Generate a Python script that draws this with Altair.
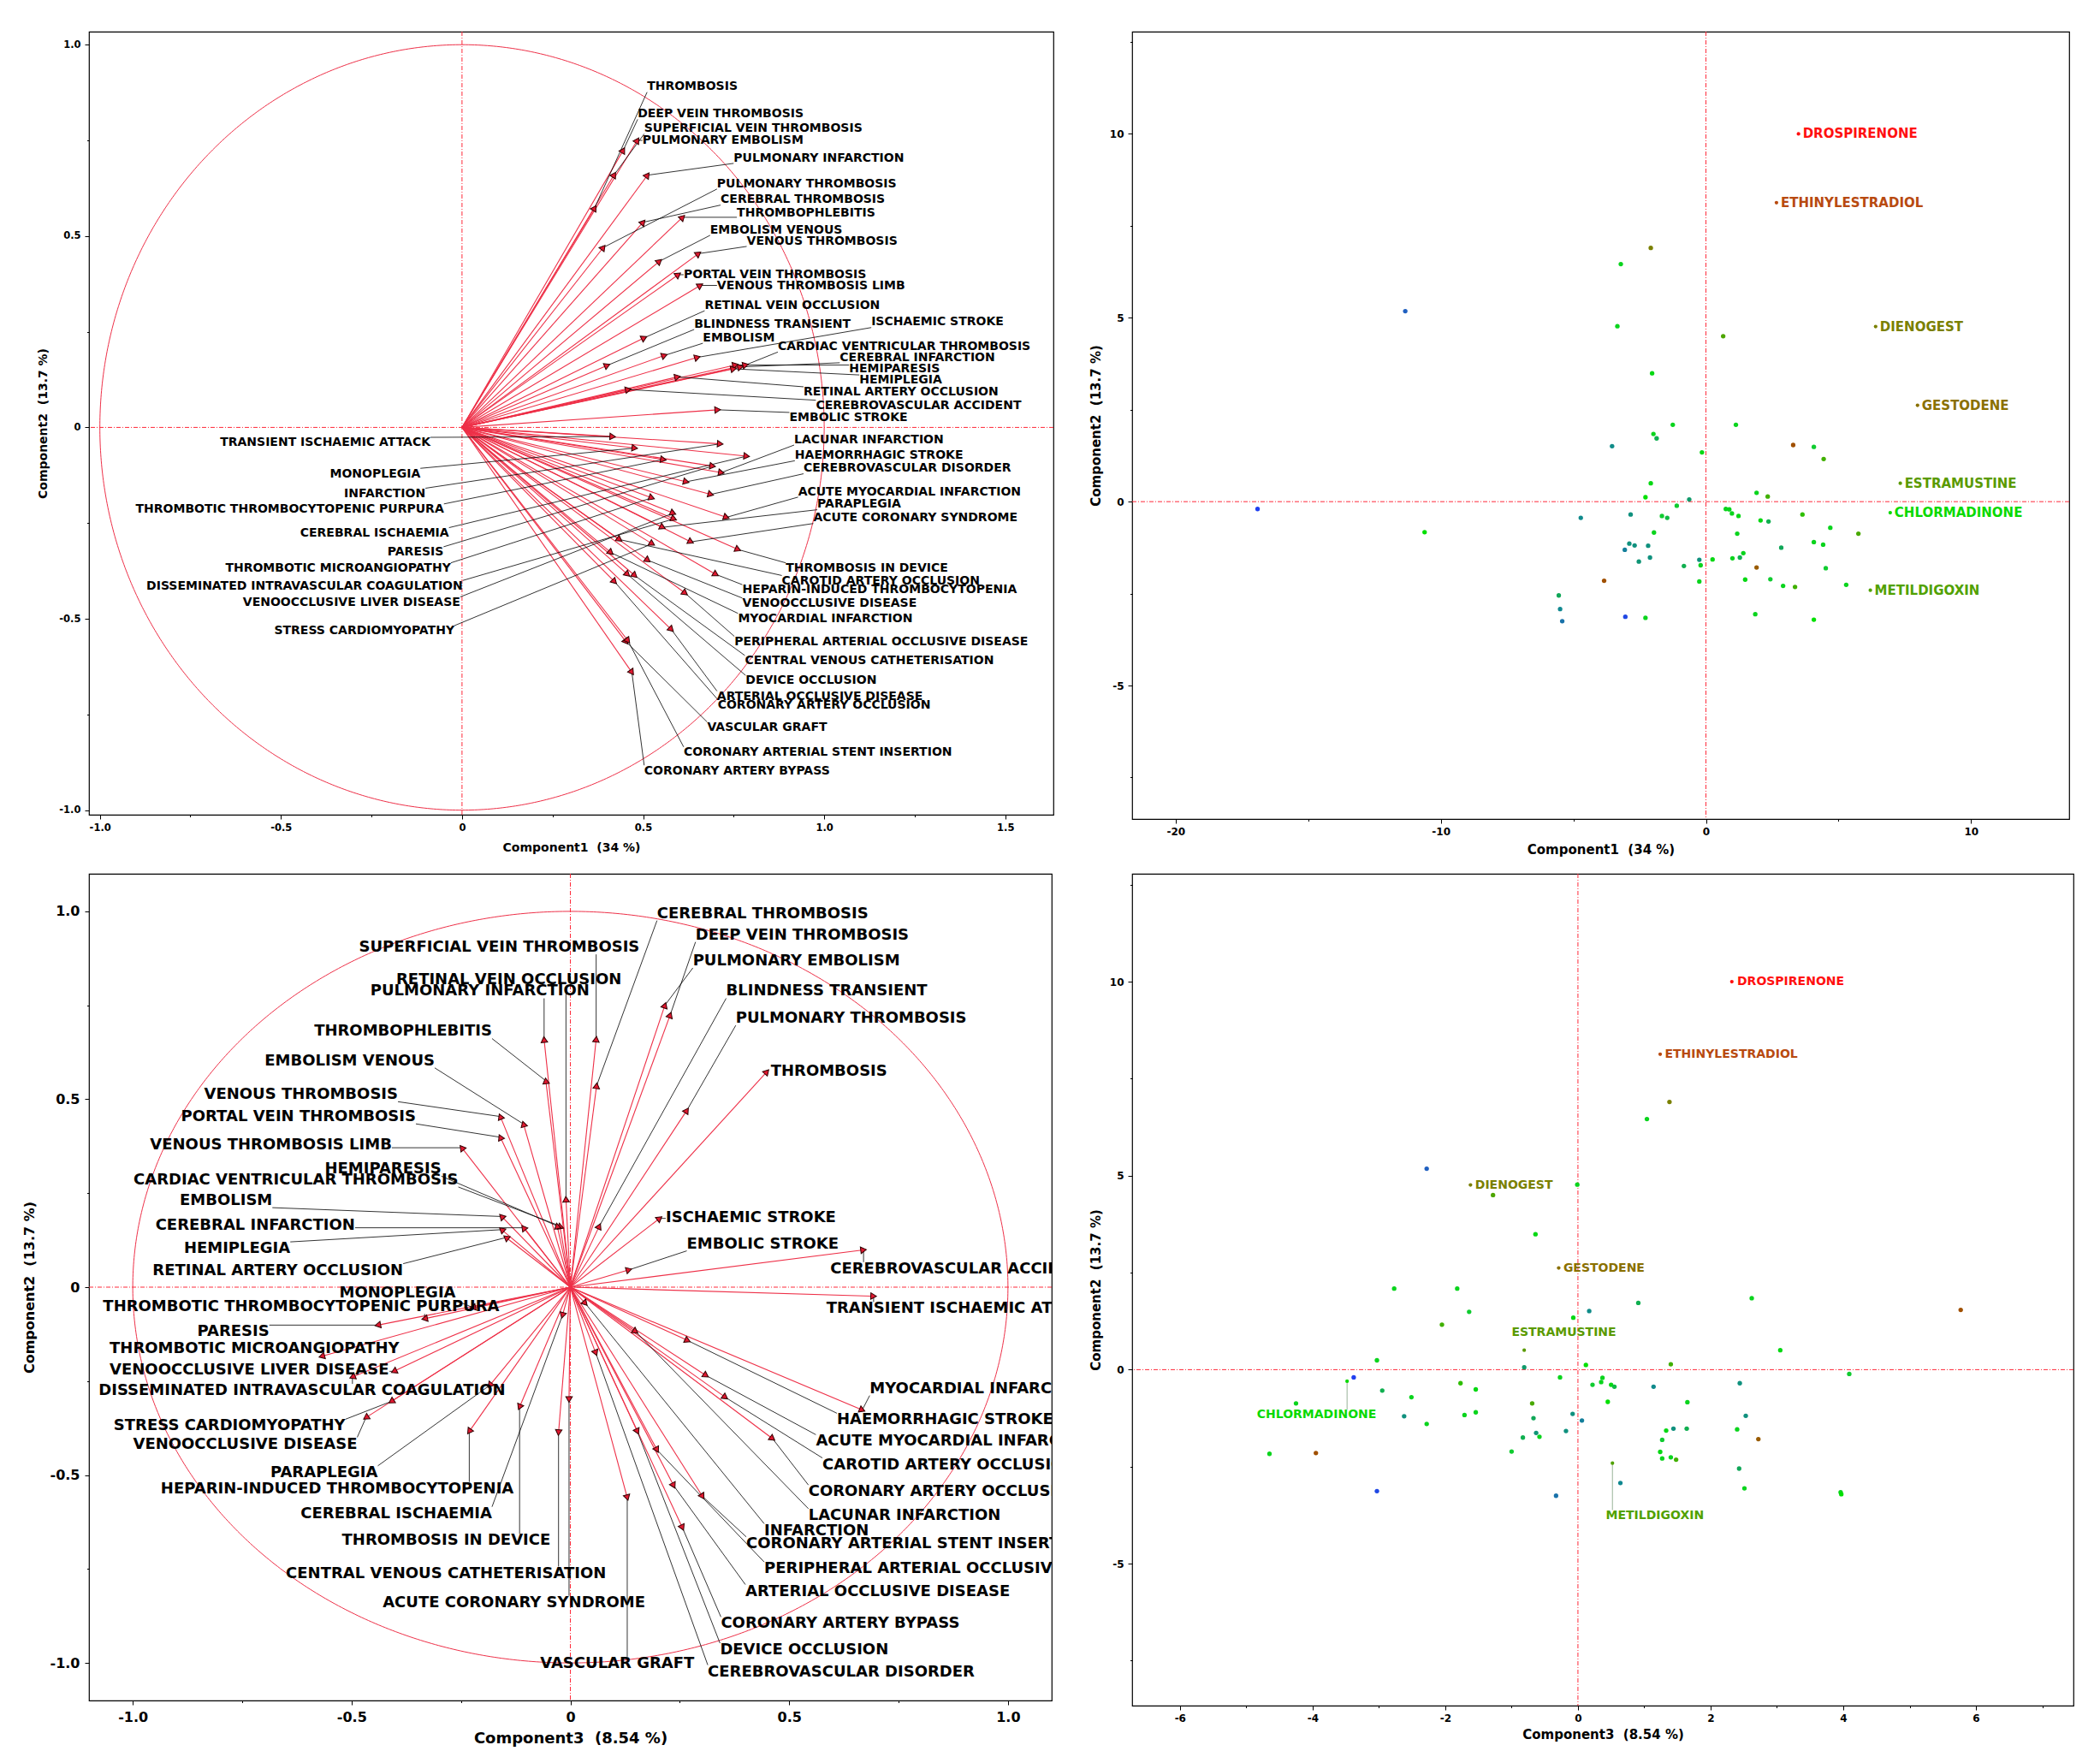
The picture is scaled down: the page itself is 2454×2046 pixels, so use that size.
import math
import numpy as np
import pandas as pd
import altair as alt

# ---------------- loadings (variables) ----------------
var_names = ["THROMBOSIS", "DEEP VEIN THROMBOSIS", "SUPERFICIAL VEIN THROMBOSIS", "PULMONARY EMBOLISM",
             "PULMONARY INFARCTION", "PULMONARY THROMBOSIS", "CEREBRAL THROMBOSIS", "THROMBOPHLEBITIS",
             "EMBOLISM VENOUS", "VENOUS THROMBOSIS", "PORTAL VEIN THROMBOSIS", "VENOUS THROMBOSIS LIMB",
             "RETINAL VEIN OCCLUSION", "BLINDNESS TRANSIENT", "ISCHAEMIC STROKE", "EMBOLISM",
             "CARDIAC VENTRICULAR THROMBOSIS", "CEREBRAL INFARCTION", "HEMIPARESIS", "HEMIPLEGIA",
             "RETINAL ARTERY OCCLUSION", "CEREBROVASCULAR ACCIDENT", "EMBOLIC STROKE",
             "TRANSIENT ISCHAEMIC ATTACK", "MONOPLEGIA", "INFARCTION", "THROMBOTIC THROMBOCYTOPENIC PURPURA",
             "CEREBRAL ISCHAEMIA", "PARESIS", "THROMBOTIC MICROANGIOPATHY",
             "DISSEMINATED INTRAVASCULAR COAGULATION", "VENOOCCLUSIVE LIVER DISEASE", "STRESS CARDIOMYOPATHY",
             "LACUNAR INFARCTION", "HAEMORRHAGIC STROKE", "CEREBROVASCULAR DISORDER",
             "ACUTE MYOCARDIAL INFARCTION", "PARAPLEGIA", "ACUTE CORONARY SYNDROME", "THROMBOSIS IN DEVICE",
             "CAROTID ARTERY OCCLUSION", "HEPARIN-INDUCED THROMBOCYTOPENIA", "VENOOCCLUSIVE DISEASE",
             "MYOCARDIAL INFARCTION", "PERIPHERAL ARTERIAL OCCLUSIVE DISEASE", "CENTRAL VENOUS CATHETERISATION",
             "DEVICE OCCLUSION", "ARTERIAL OCCLUSIVE DISEASE", "CORONARY ARTERY OCCLUSION", "VASCULAR GRAFT",
             "CORONARY ARTERIAL STENT INSERTION", "CORONARY ARTERY BYPASS"]

load_c1 = [0.366, 0.445, 0.420, 0.484, 0.512, 0.390, 0.500, 0.609, 0.545, 0.653, 0.597, 0.658, 0.503, 0.401,
           0.650, 0.559, 0.783, 0.769, 0.755, 0.750, 0.595, 0.459, 0.706,
           0.416, 0.477, 0.713, 0.556, 0.786, 0.692, 0.524, 0.585, 0.583, 0.525,
           0.716, 0.619, 0.687, 0.730, 0.554, 0.632, 0.762, 0.435, 0.701, 0.513, 0.411, 0.616, 0.477, 0.457,
           0.578, 0.421, 0.453, 0.458, 0.469]
load_c2 = [0.573, 0.724, 0.660, 0.750, 0.659, 0.470, 0.536, 0.549, 0.434, 0.454, 0.399, 0.371, 0.234, 0.162,
           0.183, 0.188, 0.163, 0.158, 0.163, 0.153, 0.132, 0.099, 0.046,
           -0.024, -0.054, -0.043, -0.084, -0.075, -0.101, -0.184, -0.239, -0.224, -0.304,
           -0.118, -0.142, -0.175, -0.235, -0.261, -0.299, -0.319, -0.293, -0.384, -0.347, -0.327, -0.433,
           -0.387, -0.384, -0.528, -0.403, -0.560, -0.557, -0.640]
load_c3 = [0.449, 0.228, 0.059, 0.216, -0.060, 0.266, 0.060, -0.056, -0.107, -0.160, -0.160, -0.248, -0.010,
           0.066, 0.204, -0.157, -0.024, -0.107, -0.030, -0.157, -0.147, 0.670, 0.134,
           0.693, -0.223, 0.034, -0.333, -0.018, -0.440, -0.568, -0.498, -0.403, -0.409,
           0.149, 0.268, 0.058, 0.310, -0.184, -0.003, -0.116, 0.354, -0.231, -0.467, 0.667, 0.198, -0.027,
           0.153, 0.236, 0.462, 0.130, 0.302, 0.256]

# label anchors, component1 x component2 panel
tl_lx = [0.511, 0.485, 0.503, 0.498, 0.750, 0.704, 0.714, 0.759, 0.685, 0.786, 0.612, 0.704, 0.670, 0.641,
         1.130, 0.665, 0.872, 1.043, 1.069, 1.097, 0.943, 0.977, 0.904,
         -0.087, -0.115, -0.101, -0.050, -0.036, -0.051, -0.031, 0.002, -0.005, -0.021,
         0.917, 0.919, 0.943, 0.928, 0.981, 0.970, 0.894, 0.883, 0.774, 0.774, 0.762, 0.752, 0.781, 0.783,
         0.704, 0.706, 0.677, 0.612, 0.503]
tl_ly = [0.890, 0.819, 0.781, 0.751, 0.704, 0.637, 0.595, 0.561, 0.516, 0.487, 0.399, 0.371, 0.319, 0.270,
         0.275, 0.234, 0.211, 0.183, 0.153, 0.123, 0.092, 0.057, 0.025,
         -0.040, -0.121, -0.173, -0.214, -0.276, -0.326, -0.368, -0.414, -0.457, -0.532,
         -0.032, -0.073, -0.107, -0.168, -0.201, -0.237, -0.368, -0.401, -0.425, -0.460, -0.500, -0.560,
         -0.610, -0.662, -0.703, -0.725, -0.784, -0.849, -0.897]
tl_anchor = ["L"] * 23 + ["R"] * 10 + ["L"] * 19

# label anchors, component3 x component2 panel
bl_lx = [0.458, 0.286, -0.483, 0.280, -0.457, 0.378, 0.198, -0.179, -0.310, -0.394, -0.353, -0.408, -0.398,
         0.356, 0.218, -0.681, -0.256, -0.492, -0.295, -0.640, -0.382, 0.594, 0.266,
         0.585, -0.262, 0.443, -1.068, -0.179, -0.688, -1.053, -1.078, -1.053, -0.514,
         0.544, 0.609, 0.314, 0.561, -0.440, -0.429, -0.522, 0.576, -0.936, -0.487, 0.684, 0.443, -0.650,
         0.342, 0.400, 0.544, -0.069, 0.402, 0.344]
bl_ly = [0.573, 0.937, 0.904, 0.868, 0.787, 0.715, 0.994, 0.680, 0.602, 0.512, 0.453, 0.377, 0.817, 0.787,
         0.184, 0.230, 0.285, 0.164, 0.314, 0.102, 0.044, 0.048, 0.115,
         -0.058, -0.017, -0.648, -0.053, -0.603, -0.119, -0.164, -0.276, -0.222, -0.370,
         -0.608, -0.354, -1.024, -0.411, -0.494, -0.840, -0.675, -0.473, -0.537, -0.418, -0.270, -0.750,
         -0.762, -0.966, -0.810, -0.545, -1.002, -0.683, -0.896]
bl_anchor = ["L", "L", "L", "L", "L", "L", "L", "R", "R", "R", "R", "R", "L", "L", "L", "R", "R", "R", "R",
             "R", "R", "L", "L",
             "L", "R", "L", "L", "R", "R", "L", "L", "L", "R",
             "L", "L", "L", "L", "R", "L", "L", "L", "L", "R", "L", "L", "L", "L", "L", "L", "L", "L", "L"]

# ---------------- scores (drugs) ----------------
s_c1 = [-11.34, -16.91, -10.61, -2.08, -3.21, -3.34, 0.65, -2.03, -1.25, 1.13, -1.98, -1.86, -3.54, 3.29,
        4.07, 4.44, -0.15, -2.08, -2.28, -0.63, -1.10, 1.91, 2.33, -2.84, 0.75, 0.88, 0.98, 3.64, -1.66,
        1.23, -1.46, -4.72, 2.06, 2.36, 4.69, -1.96, 5.75, 1.18, 4.07, -2.89, 4.42, -2.69, -2.18, 2.84,
        -3.06, 1.41, -2.11, 1.28, 1.00, 0.25, -0.25, -2.53, -0.20, -0.83, 1.91, 4.52, 2.43, 1.48, -3.84,
        -0.25, 5.29, 2.91, 3.36, -5.55, -5.50, 1.86, -3.04, -2.28, 4.07, -5.42]
s_c2 = [5.18, -0.20, -0.83, 6.90, 6.46, 4.77, 4.50, 3.49, 2.09, 2.09, 1.84, 1.72, 1.51, 1.54, 1.49, 1.16,
        1.34, 0.50, 0.12, 0.06, -0.11, 0.24, 0.14, -0.35, -0.20, -0.21, -0.32, -0.35, -0.39, -0.39, -0.44,
        -0.44, -0.51, -0.54, -0.71, -0.84, -0.87, -0.87, -1.10, -1.14, -1.17, -1.19, -1.20, -1.25, -1.31,
        -1.40, -1.52, -1.52, -1.54, -1.57, -1.58, -1.63, -1.73, -1.75, -1.79, -1.81, -2.11, -2.12, -2.15,
        -2.17, -2.26, -2.29, -2.32, -2.55, -2.92, -3.06, -3.13, -3.16, -3.21, -3.25]
s_c3 = [-2.28, -3.38, 0.45, 1.38, 1.04, -0.01, -1.28, -0.64, -2.77, -1.82, 2.62, 0.91, 0.17, 5.77, -1.64,
        -2.05, -0.07, 3.05, 0.12, -0.81, 4.09, -3.03, 1.40, 2.44, -0.27, 0.37, 0.35, -1.77, 0.22, 0.50,
        0.55, 1.14, -1.54, -2.95, -2.51, 1.65, -0.69, -4.25, -1.54, -0.08, -1.71, 2.53, -2.62, -0.67, 0.06,
        -2.28, 1.44, 1.64, 2.40, 1.33, -0.18, -0.63, -0.58, -0.83, 2.72, 1.27, -1.00, 1.24, -3.95, -4.65,
        1.40, 1.27, 1.48, 2.43, 0.64, 2.51, -3.03, 3.96, 3.97, -0.33]
s_col = [0.12, 0.00, 0.55, 0.76, 0.52, 0.52, 0.65, 0.53, 0.52, 0.52, 0.52, 0.42, 0.27, 0.86, 0.50, 0.62,
         0.53, 0.53, 0.55, 0.35, 0.50, 0.52, 0.62, 0.30, 0.52, 0.52, 0.52, 0.60, 0.50, 0.53, 0.45, 0.26,
         0.53, 0.42, 0.52, 0.52, 0.64, 0.52, 0.52, 0.30, 0.52, 0.30, 0.30, 0.40, 0.22, 0.52, 0.30, 0.42,
         0.52, 0.53, 0.30, 0.32, 0.52, 0.42, 0.84, 0.50, 0.50, 0.53, 0.86, 0.52, 0.52, 0.52, 0.62, 0.40,
         0.25, 0.52, 0.03, 0.52, 0.55, 0.18]

drug_names = ["DROSPIRENONE", "ETHINYLESTRADIOL", "DIENOGEST", "GESTODENE", "ESTRAMUSTINE",
              "CHLORMADINONE", "METILDIGOXIN"]
d_c1 = [3.49, 2.66, 6.40, 7.98, 7.33, 6.95, 6.20]
d_c2 = [10.00, 8.13, 4.76, 2.62, 0.50, -0.30, -2.41]
d_c3 = [2.32, 1.24, -1.62, -0.29, -0.81, -3.48, 0.52]
d_col = [1.00, 0.92, 0.76, 0.80, 0.68, 0.56, 0.66]
br_lx = [2.40, 1.31, -1.55, -0.22, -1.00, -4.84, 0.42]
br_ly = [10.00, 8.13, 4.76, 2.62, 0.96, -1.17, -3.76]
br_lead = [False, False, False, False, False, True, True]

# ---------------- styling helpers ----------------
F = "DejaVu Sans"
RED = "#EE3048"
ZRED = "#FF2A3A"
COL_DOM = [0.0, 0.12, 0.25, 0.38, 0.50, 0.55, 0.62, 0.68, 0.76, 0.80, 0.86, 0.92, 1.0]
COL_RNG = ["#2040F0", "#2060C0", "#108890", "#10A060", "#10CC30", "#00E000", "#40B000", "#5A9A00",
           "#7A8000", "#8A7000", "#A05000", "#B84A10", "#FF1010"]
cscale = alt.Scale(domain=COL_DOM, range=COL_RNG, interpolate="rgb")

CW = {'A': .774, 'B': .762, 'C': .734, 'D': .830, 'E': .683, 'F': .683, 'G': .821, 'H': .837, 'I': .372,
      'J': .372, 'K': .775, 'L': .637, 'M': .995, 'N': .837, 'O': .850, 'P': .733, 'Q': .850, 'R': .770,
      'S': .720, 'T': .682, 'U': .812, 'V': .774, 'W': 1.103, 'X': .771, 'Y': .724, 'Z': .725, ' ': .348,
      '-': .415}


def text_w(s, fs):
    return fs * sum(CW.get(ch, .7) for ch in s)


def fmt_expr(step, dec):
    t = f"abs(datum.value/{step} - round(datum.value/{step})) < 0.001"
    f = f"format(abs(datum.value), '.{dec}f')"
    return f"({t}) ? (abs(datum.value) < 1e-9 ? '0' : (datum.value < 0 ? '-' : '') + {f}) : ''"


def tick_size(step, major=5, minor=2.5):
    return {"condition": {"test": f"abs(datum.value/{step} - round(datum.value/{step})) > 0.001",
                          "value": minor}, "value": major}


def make_axis(title, values, step, dec, lfs, tfs, lpad, tpad):
    return alt.Axis(title=title, values=values, labelExpr=fmt_expr(step, dec), grid=False, domain=False,
                    ticks=True, tickColor="black", tickWidth=1, tickSize=tick_size(step),
                    labelFont=F, labelFontSize=lfs, labelFontWeight="bold", labelColor="black",
                    labelPadding=lpad, labelOverlap=False, labelFlush=False,
                    titleFont=F, titleFontSize=tfs, titleFontWeight="bold", titleColor="black",
                    titlePadding=tpad)


def zero_lines(xs, ys, xaxis, yaxis):
    z = pd.DataFrame({"v": [0.0]})
    v = alt.Chart(z).mark_rule(color=ZRED, strokeWidth=1, strokeDash=[5, 2, 1, 2]).encode(
        x=alt.X("v:Q", scale=xs, axis=xaxis))
    h = alt.Chart(z).mark_rule(color=ZRED, strokeWidth=1, strokeDash=[5, 2, 1, 2]).encode(
        y=alt.Y("v:Q", scale=ys, axis=yaxis))
    return [v, h]


def loading_panel(xv, lx, ly, anchor, W, H, XD, YD, fs, xaxis, yaxis):
    kx = W / (XD[1] - XD[0])
    ky = H / (YD[1] - YD[0])
    rows = []
    for i, n in enumerate(var_names):
        px, py = xv[i], load_c2[i]
        w = text_w(n, fs) / kx
        if anchor[i] == "L":
            left, right = lx[i], lx[i] + w
        else:
            left, right = lx[i] - w, lx[i]
        hh = 0.45 * fs / ky
        sx0 = min(max(px, left), right)
        sy0 = min(max(py, ly[i] - hh), ly[i] + hh)
        dist = math.hypot((px - sx0) * kx, (py - sy0) * ky)
        ang = math.degrees(math.atan2(px * kx, py * ky)) % 360
        rows.append(dict(name=n, x=px, y=py, x0=0.0, y0=0.0, lx=lx[i], ly=ly[i], anchor=anchor[i],
                         sx0=sx0, sy0=sy0, lead=bool(dist > 5), ang=ang))
    df = pd.DataFrame(rows)
    xs = alt.Scale(domain=list(XD), nice=False, zero=False)
    ys = alt.Scale(domain=list(YD), nice=False, zero=False)
    t = np.linspace(0, 2 * np.pi, 721)
    circ = pd.DataFrame({"cx": np.cos(t), "cy": np.sin(t), "i": np.arange(len(t))})
    layers = []
    layers.append(alt.Chart(circ).mark_line(color=RED, strokeWidth=1, clip=True).encode(
        x=alt.X("cx:Q", scale=xs, axis=xaxis), y=alt.Y("cy:Q", scale=ys, axis=yaxis), order="i:Q"))
    layers += zero_lines(xs, ys, xaxis, yaxis)
    layers.append(alt.Chart(df).mark_rule(color=RED, strokeWidth=1.1, clip=True).encode(
        x=alt.X("x0:Q", scale=xs, axis=xaxis), y=alt.Y("y0:Q", scale=ys, axis=yaxis),
        x2="x:Q", y2="y:Q"))
    layers.append(alt.Chart(df).transform_filter("datum.lead").mark_rule(
        color="black", strokeWidth=0.8, clip=True).encode(
        x=alt.X("sx0:Q", scale=xs, axis=xaxis), y=alt.Y("sy0:Q", scale=ys, axis=yaxis),
        x2="x:Q", y2="y:Q"))
    layers.append(alt.Chart(df).mark_point(shape="triangle-up", filled=True, size=58, fill="#E01830",
                                           stroke="#300000", strokeWidth=1, opacity=1, clip=True).encode(
        x=alt.X("x:Q", scale=xs, axis=xaxis), y=alt.Y("y:Q", scale=ys, axis=yaxis),
        angle=alt.Angle("ang:Q", scale=None)))
    for a, al in (("L", "left"), ("R", "right")):
        layers.append(alt.Chart(df).transform_filter(f"datum.anchor == '{a}'").mark_text(
            align=al, baseline="middle", font=F, fontWeight="bold", fontSize=fs, color="black",
            clip=True).encode(
            x=alt.X("lx:Q", scale=xs, axis=xaxis), y=alt.Y("ly:Q", scale=ys, axis=yaxis), text="name:N"))
    return alt.layer(*layers).properties(width=W, height=H)


def score_panel(sx, dx, W, H, XD, YD, xaxis, yaxis, lfs, labels_at_points, lab_x=None, lab_y=None,
                lead=None):
    kx = W / (XD[1] - XD[0])
    ky = H / (YD[1] - YD[0])
    pts = pd.DataFrame({"x": sx, "y": s_c2, "col": s_col})
    rows = []
    for i, n in enumerate(drug_names):
        px, py = dx[i], d_c2[i]
        if labels_at_points:
            lxx, lyy, ld = px, py, False
        else:
            lxx, lyy, ld = lab_x[i], lab_y[i], lead[i]
        w = text_w(n, lfs) / kx
        hh = 0.45 * lfs / ky
        sx0 = min(max(px, lxx), lxx + w)
        sy0 = min(max(py, lyy - hh), lyy + hh)
        rows.append(dict(name=n, x=px, y=py, col=d_col[i], lx=lxx, ly=lyy, sx0=sx0, sy0=sy0, lead=ld))
    dd = pd.DataFrame(rows)
    xs = alt.Scale(domain=list(XD), nice=False, zero=False)
    ys = alt.Scale(domain=list(YD), nice=False, zero=False)
    layers = zero_lines(xs, ys, xaxis, yaxis)
    layers.append(alt.Chart(dd).transform_filter("datum.lead").mark_rule(
        color="#7FA07F", strokeWidth=0.8).encode(
        x=alt.X("sx0:Q", scale=xs, axis=xaxis), y=alt.Y("sy0:Q", scale=ys, axis=yaxis),
        x2="x:Q", y2="y:Q"))
    layers.append(alt.Chart(pts).mark_circle(size=28, opacity=1, clip=True).encode(
        x=alt.X("x:Q", scale=xs, axis=xaxis), y=alt.Y("y:Q", scale=ys, axis=yaxis),
        color=alt.Color("col:Q", scale=cscale, legend=None)))
    layers.append(alt.Chart(dd).mark_circle(size=18, opacity=1, clip=True).encode(
        x=alt.X("x:Q", scale=xs, axis=xaxis), y=alt.Y("y:Q", scale=ys, axis=yaxis),
        color=alt.Color("col:Q", scale=cscale, legend=None)))
    layers.append(alt.Chart(dd).mark_text(
        align="left", baseline="middle", font=F, fontWeight="bold", fontSize=lfs,
        dx=(5 if labels_at_points else 0), clip=True).encode(
        x=alt.X("lx:Q", scale=xs, axis=xaxis), y=alt.Y("ly:Q", scale=ys, axis=yaxis), text="name:N",
        color=alt.Color("col:Q", scale=cscale, legend=None)))
    return alt.layer(*layers).properties(width=W, height=H)


T_C1 = "Component1\u00a0\u00a0(34 %)"
T_C2 = "Component2\u00a0\u00a0(13.7 %)"
T_C3 = "Component3\u00a0\u00a0(8.54 %)"

q = [round(v, 2) for v in np.arange(-1.0, 1.501, 0.25)]
q1 = [round(v, 2) for v in np.arange(-1.0, 1.001, 0.25)]

tl = loading_panel(load_c1, tl_lx, tl_ly, tl_anchor, 1127, 915, (-1.03, 1.633), (-1.012, 1.034), 14,
                   make_axis(T_C1, q, 0.5, 1, 11.5, 14, 4, 11),
                   make_axis(T_C2, q1, 0.5, 1, 11.5, 14, 5, 11))
bl = loading_panel(load_c3, bl_lx, bl_ly, bl_anchor, 1125, 966, (-1.1, 1.1), (-1.1, 1.1), 18,
                   make_axis(T_C3, q1, 0.5, 1, 16, 18, 6, 8),
                   make_axis(T_C2, q1, 0.5, 1, 16, 16, 6, 16))

tr_x = [float(v) for v in range(-20, 11, 5)]
yv = [round(v, 2) for v in np.arange(-7.5, 12.51, 2.5)]
br_x = [float(v) for v in range(-6, 8)]

tr = score_panel(s_c1, d_c1, 1095, 920, (-21.64, 13.7), (-8.63, 12.78),
                 make_axis(T_C1, tr_x, 10, 0, 12, 15, 4, 8),
                 make_axis(T_C2, yv, 5, 0, 12, 15, 5, 8), 15, True)
br = score_panel(s_c3, d_c3, 1100, 972, (-6.72, 7.47), (-8.66, 12.78),
                 make_axis(T_C3, br_x, 2, 0, 12, 15, 4, 6),
                 make_axis(T_C2, yv, 5, 0, 12, 15, 5, 8), 14, False, br_lx, br_ly, br_lead)

chart = alt.concat(tl, tr, bl, br, columns=2, spacing={"row": 64, "column": 92}, bounds="flush").properties(
    padding={"left": 17, "top": 27, "right": 5, "bottom": 0},
    background="white",
).configure_view(stroke="black", strokeWidth=1.2)

chart.save("out.html", embed_options={"renderer": "svg", "actions": False})
